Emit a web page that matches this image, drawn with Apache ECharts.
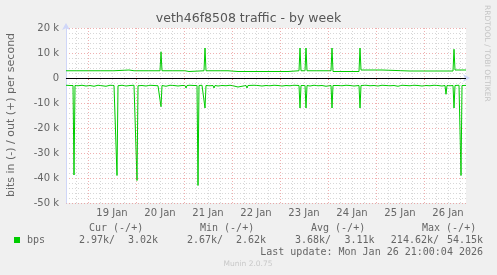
<!DOCTYPE html>
<html><head><meta charset="utf-8">
<script src="https://cdn.jsdelivr.net/npm/echarts@6/dist/echarts.min.js"></script>
<style>html,body{margin:0;padding:0;background:#f0f0f0;}#c{width:497px;height:275px;}</style>
</head><body><div id="c"></div>
<script>
// x = hours since 18 Jan 00:00, y = thousands of bits per second
const xMin = 13, xMax = 213;
const dayBoundaries = [24, 48, 72, 96, 120, 144, 168, 192];
const dayLabels = ['19 Jan', '20 Jan', '21 Jan', '22 Jan', '23 Jan', '24 Jan', '25 Jan', '26 Jan'];
const yTicks = [20, 10, 0, -10, -20, -30, -40, -50];

const outBps = [
  [13,2.9],[24.5,2.9],[25,3.15],[25.5,2.9],
  [37,2.9],[37.5,3.2],[44.5,3.2],[45,2.9],
  [47,2.9],[47.5,3.2],[48,2.9],
  [60,2.9],[60.5,10.5],[61,2.9],
  [72.5,2.9],[73,2.6],[74.5,2.6],[75,2.9],
  [82,2.9],[82.5,12],[83,2.9],
  [94,2.9],[94.5,2.6],[99,2.6],[99.5,2.95],[100,2.6],[110,2.6],[110.5,2.95],[111,2.6],
  [124,2.6],[124.5,2.9],
  [129.5,2.9],[130,12],[130.5,2.9],
  [132.5,2.9],[133,12],[133.5,2.9],
  [140.5,2.9],[141,2.6],[141.5,2.9],
  [145.5,2.9],[146,12],[146.5,2.6],
  [159.5,2.6],[160,12],[160.5,3.2],
  [171,3.2],[171.5,2.8],
  [185,2.8],[185.5,3.1],[186,2.8],
  [206.5,2.8],[207,11.5],[207.5,3.2],[213,3.2]
];

const inBps = [
  [13,-2.9],[15,-3.0],[16.5,-3.0],[17,-38.8],[17.5,-3.0],[19,-3.1],[21,-2.9],[23,-3.2],[25,-3.0],[27,-3.3],
  [29,-2.9],[31,-3.1],[33,-3.3],[35,-2.9],[37,-3.0],[38,-3.0],[38.5,-39],[39,-3.1],[41,-2.9],[43,-3.2],
  [45,-3.0],[47,-2.9],[48,-3.0],[48.5,-41],[49,-3.1],[51,-3.0],[53,-3.2],[55,-2.9],[57,-3.0],[59,-3.1],
  [60,-3.0],[60.5,-11.5],[61,-3.0],[63,-3.3],[65,-2.9],[67,-3.0],[69,-3.2],[71,-3.0],[72.5,-3.0],[73,-4.0],
  [73.5,-3.0],[75,-2.9],[77,-3.0],[78.5,-3.0],[79,-43],[79.5,-3.0],[81,-2.9],[82,-3.0],[82.5,-12],[83,-3.0],
  [85,-3.1],[86.5,-3.0],[87,-4.0],[87.5,-3.0],[89,-3.2],[91,-3.0],[93,-3.1],[95,-2.9],[97,-3.2],[99,-3.6],
  [101,-3.3],[103,-3.0],[103.5,-4.0],[104,-3.0],[105,-3.1],[107,-2.9],[109,-3.0],[111,-3.2],[113,-3.0],[115,-3.1],
  [117,-2.9],[119,-3.0],[121,-3.2],[123,-3.0],[125,-3.1],[127,-2.9],[129.5,-3.0],[130,-12],[130.5,-3.0],[132.5,-3.0],
  [133,-12],[133.5,-3.0],[135,-3.2],[137,-2.9],[139,-3.1],[141,-3.0],[143,-3.3],[145.5,-3.0],[146,-12],[146.5,-3.0],
  [147,-2.9],[149,-3.0],[151,-3.1],[153,-2.9],[155,-3.0],[157,-3.2],[159.5,-3.0],[160,-12],[160.5,-3.0],[161,-3.0],
  [163,-2.9],[165,-3.1],[167,-3.0],[169,-3.2],[171,-2.9],[173,-3.0],[175,-3.1],[177,-3.0],[179,-3.3],[181,-2.9],
  [183,-3.0],[185,-3.1],[187,-2.9],[189,-3.0],[191,-3.2],[193,-3.0],[195,-3.1],[197,-2.9],[199,-3.0],[201,-3.2],
  [202.5,-3.0],[203,-6.5],[203.5,-3.0],[205,-3.1],[206.5,-3.0],[207,-12],[207.5,-3.0],[208.5,-3.2],[209.5,-2.9],[210,-3.0],
  [210.5,-39],[211,-3.0],[212,-3.1],[213,-2.97]
];

const legendHeaders = ['Cur (-/+)', 'Min (-/+)', 'Avg (-/+)', 'Max (-/+)'];
const legendIn = ['2.97k/', '2.67k/', '3.68k/', '214.62k/'];
const legendOut = ['3.02k', '2.62k', '3.11k', '54.15k'];
const seriesName = 'bps';
const titleText = 'veth46f8508 traffic - by week';
const yName = 'bits in (-) / out (+) per second';
const lastUpdate = 'Last update: Mon Jan 26 21:00:04 2026';

const GREEN = '#00cc00';
const FONT = 'DejaVu Sans';
const MONO = 'DejaVu Sans Mono';
const TXT = '#666666';
const majorStyle = { color: 'rgba(220,80,80,0.45)', type: [1, 2], width: 1 };
const minorStyle = { color: 'rgba(140,140,140,0.35)', type: [1, 2], width: 1 };

const vLines = [];
for (let h = 18; h < xMax; h += 6) {
  if (dayBoundaries.indexOf(h) >= 0) vLines.push({ xAxis: h, lineStyle: majorStyle });
  else vLines.push({ xAxis: h, lineStyle: minorStyle });
}

const chart = echarts.init(document.getElementById('c'), null, { renderer: 'canvas' });

const graphics = [];
graphics.push({ type: 'text', left: 'center', top: 12, style: { text: titleText, font: '12.5px "' + FONT + '"', fill: '#555' } });
graphics.push({ type: 'text', x: 11, y: 115, rotation: Math.PI / 2, style: { text: yName, font: '11px "' + FONT + '"', fill: TXT, align: 'center', verticalAlign: 'middle' }, originX: 0, originY: 0 });
graphics.push({ type: 'text', x: 487, y: 5, rotation: -Math.PI / 2, style: { text: 'RRDTOOL / TOBI OETIKER', font: '7.5px "' + FONT + '"', fill: '#c4c4c4', align: 'left', verticalAlign: 'middle' } });
const headX = [89, 200, 311, 422];
legendHeaders.forEach((t, i) => graphics.push({ type: 'text', x: headX[i], y: 228, style: { text: t, font: '10px "' + MONO + '"', fill: TXT, verticalAlign: 'middle' } }));
graphics.push({ type: 'rect', shape: { x: 14, y: 237, width: 6, height: 6 }, style: { fill: GREEN } });
graphics.push({ type: 'text', x: 27, y: 240, style: { text: seriesName, font: '10px "' + MONO + '"', fill: TXT, verticalAlign: 'middle' } });
const inEnd = [115, 223, 331, 439];
const outEnd = [158, 266, 374.5, 483];
legendIn.forEach((t, i) => graphics.push({ type: 'text', x: inEnd[i], y: 240, style: { text: t, font: '10px "' + MONO + '"', fill: TXT, align: 'right', verticalAlign: 'middle' } }));
legendOut.forEach((t, i) => graphics.push({ type: 'text', x: outEnd[i], y: 240, style: { text: t, font: '10px "' + MONO + '"', fill: TXT, align: 'right', verticalAlign: 'middle' } }));
graphics.push({ type: 'text', x: 483, y: 252, style: { text: lastUpdate, font: '10px "' + MONO + '"', fill: TXT, align: 'right', verticalAlign: 'middle' } });
graphics.push({ type: 'text', x: 248, y: 264, style: { text: 'Munin 2.0.75', font: '7.5px "' + FONT + '"', fill: '#c8c8c8', align: 'center', verticalAlign: 'middle' } });

chart.setOption({
  animation: false,
  backgroundColor: '#f0f0f0',
  grid: { left: 66, top: 28, width: 400, height: 175, show: true, backgroundColor: '#ffffff', borderWidth: 0 },
  xAxis: {
    type: 'value', min: xMin, max: xMax,
    axisLine: { show: true, lineStyle: { color: '#cfd6f8', width: 1 }, symbol: ['none', 'arrow'], symbolSize: [6, 7], symbolOffset: [0, 4] },
    axisTick: { show: true, customValues: dayBoundaries, length: 2, inside: false, lineStyle: { color: 'rgba(220,80,80,0.7)' } },
    axisLabel: { customValues: dayBoundaries.map(d => d + 12), formatter: v => dayLabels[Math.round((v - 36) / 24)] || '', color: TXT, fontFamily: FONT, fontSize: 10, margin: 5 },
    splitLine: { show: false }
  },
  yAxis: {
    type: 'value', min: -50, max: 20, interval: 10,
    axisLine: { show: true, onZero: false, lineStyle: { color: '#cfd6f8', width: 1 }, symbol: ['none', 'arrow'], symbolSize: [6, 7], symbolOffset: [0, 5] },
    axisTick: { show: false },
    axisLabel: { formatter: v => (yTicks.indexOf(v) >= 0 ? (v === 0 ? '0' : v + ' k') : ''), color: TXT, fontFamily: FONT, fontSize: 10, margin: 7 },
    splitLine: { show: true, lineStyle: majorStyle },
    minorTick: { show: false, splitNumber: 5 },
    minorSplitLine: { show: true, lineStyle: minorStyle }
  },
  graphic: graphics,
  series: [
    { type: 'line', data: [], z: 1, silent: true,
      markLine: { silent: true, symbol: ['none', 'none'], label: { show: false }, animation: false, data: vLines.concat([{ yAxis: 0, lineStyle: { color: '#000', type: 'solid', width: 1 } }]) } },
    { name: 'in', type: 'line', data: inBps, showSymbol: false, z: 3, lineStyle: { color: GREEN, width: 1 } },
    { name: 'out', type: 'line', data: outBps, showSymbol: false, z: 3, lineStyle: { color: GREEN, width: 1 } }
  ]
});
</script></body></html>
